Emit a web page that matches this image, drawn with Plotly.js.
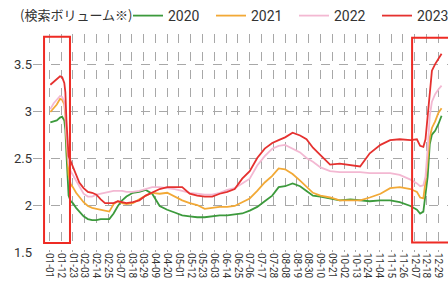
<!DOCTYPE html>
<html><head><meta charset="utf-8">
<script src="https://cdn.plot.ly/plotly-3.0.1.min.js"></script>
<style>html,body{margin:0;padding:0;background:#fff;}#chart{width:448px;height:282px;}</style>
</head><body><div id="chart"></div>
<script>
// Day index in a leap year (0 = 01-01)
const days = [1,4,7,10,12,14,15,16,18,20,22,25,28,32,36,40,44,48,52,56,60,64,68,72,78,84,90,96,103,110,117,124,131,138,145,152,159,166,173,180,187,194,201,208,214,220,227,234,240,246,253,262,271,281,290,299,309,318,327,337,343,346,349,351,353,355,357,360,363,366];

const v2023 = [3.28,3.31,3.33,3.37,3.36,3.30,3.20,2.90,2.52,2.46,2.42,2.33,2.24,2.18,2.14,2.13,2.11,2.06,2.02,2.02,2.02,2.04,2.03,2.02,2.03,2.05,2.10,2.13,2.17,2.19,2.19,2.19,2.12,2.10,2.09,2.09,2.12,2.14,2.17,2.28,2.36,2.50,2.60,2.66,2.69,2.72,2.77,2.74,2.70,2.61,2.53,2.43,2.44,2.42,2.41,2.55,2.64,2.69,2.70,2.69,2.70,2.63,2.62,2.70,2.95,3.25,3.43,3.50,3.56,3.61];
const v2022 = [3.02,3.08,3.12,3.16,3.15,3.10,3.00,2.75,2.45,2.36,2.32,2.26,2.20,2.12,2.09,2.09,2.11,2.12,2.13,2.14,2.15,2.15,2.15,2.14,2.14,2.15,2.17,2.19,2.19,2.18,2.17,2.15,2.13,2.12,2.11,2.11,2.13,2.16,2.18,2.23,2.28,2.42,2.52,2.60,2.63,2.64,2.60,2.56,2.50,2.46,2.40,2.36,2.35,2.35,2.35,2.34,2.34,2.34,2.32,2.27,2.23,2.20,2.21,2.30,2.60,2.95,3.10,3.18,3.23,3.27];
const v2021 = [2.99,3.03,3.07,3.13,3.12,3.07,2.95,2.70,2.32,2.22,2.19,2.13,2.09,2.03,1.99,1.97,1.96,1.95,1.94,1.93,2.01,2.04,2.02,2.01,2.02,2.06,2.10,2.13,2.12,2.13,2.09,2.05,2.02,2.00,1.96,1.97,1.98,1.98,1.99,2.03,2.07,2.15,2.24,2.31,2.39,2.38,2.33,2.26,2.20,2.13,2.10,2.08,2.05,2.05,2.05,2.08,2.12,2.18,2.19,2.17,2.14,2.08,2.07,2.25,2.50,2.72,2.82,2.89,2.98,3.03];
const v2020 = [2.88,2.89,2.90,2.93,2.94,2.90,2.80,2.55,2.10,2.04,2.02,1.97,1.93,1.88,1.85,1.84,1.84,1.85,1.85,1.85,1.91,1.99,2.05,2.09,2.13,2.14,2.16,2.12,1.99,1.95,1.92,1.89,1.88,1.87,1.87,1.88,1.89,1.89,1.90,1.91,1.94,1.98,2.04,2.10,2.19,2.20,2.23,2.20,2.15,2.10,2.09,2.07,2.05,2.06,2.05,2.04,2.05,2.05,2.03,1.99,1.95,1.91,1.93,2.10,2.30,2.65,2.75,2.79,2.86,2.95];

const tickDays = [0,11,22,33,44,55,66,77,88,99,110,121,132,143,154,165,176,187,198,209,220,231,242,253,264,275,286,297,308,319,330,341,352,363];
const tickLabels = ["01-01","01-12","01-23","02-03","02-14","02-25","03-07","03-18","03-29","04-09","04-20","05-01","05-12","05-23","06-03","06-14","06-25","07-06","07-17","07-28","08-08","08-19","08-30","09-10","09-21","10-02","10-13","10-24","11-04","11-15","11-26","12-07","12-18","12-29"];

const seriesNames = ["2020","2021","2022","2023"];
const seriesVals = [v2020, v2021, v2022, v2023];
const colors = ["#3c9a3c","#f2a936","#f3b8d2","#e5312f"];

const traces = seriesNames.map((n,i)=>({
  x: days, y: seriesVals[i], type:'scatter', mode:'lines', name:n,
  line:{color:colors[i], width:1.8, shape:'linear'}
}));

const boxStyle = {type:'rect', xref:'x', yref:'y', line:{color:'#ee2b24', width:2}, fillcolor:'rgba(0,0,0,0)'};
const layout = {
  width:448, height:282,
  margin:{l:33, r:0, t:34, b:30, autoexpand:false},
  paper_bgcolor:'#fff', plot_bgcolor:'#fff',
  font:{family:'Roboto, "Noto Sans CJK JP", sans-serif', color:'#333'},
  title:{text:'(検索ボリューム※)', xref:'container', yref:'container', x:20/448, xanchor:'left',
    y:1-15/282, yanchor:'middle', pad:{t:0,b:0,l:0,r:0},
    font:{size:13, family:'"Noto Sans CJK JP", sans-serif', color:'#333'}},
  showlegend:true,
  legend:{orientation:'h', x:(128-33)/415, xanchor:'left', y:1, yref:'container', yanchor:'top',
    font:{size:14, color:'#333'}, entrywidth:38, entrywidthmode:'pixels', itemwidth:30, bgcolor:'rgba(0,0,0,0)'},
  xaxis:{range:[-15.2,372], tickmode:'array', tickvals:tickDays, ticktext:tickLabels, tickangle:90,
    tickfont:{size:10, color:'#333'}, showgrid:true, gridcolor:'#a8a8a8', griddash:'dash', gridwidth:1,
    zeroline:false, showline:false, ticks:'', ticklen:0},
  yaxis:{range:[1.5,3.82], tickvals:[1.5,2,2.5,3,3.5], ticktext:["1.5","2","2.5","3","3.5"],
    tickfont:{size:13, color:'#333'}, showgrid:true, gridcolor:'#a8a8a8', griddash:'dash', gridwidth:1,
    zeroline:false, showline:false, ticks:'', ticklen:0},
  shapes:[
    Object.assign({x0:-4.9, x1:19.3, y0:1.596, y1:3.79}, boxStyle),
    Object.assign({x0:338.5, x1:380, y0:1.60, y1:3.78}, boxStyle)
  ]
};
Plotly.newPlot('chart', traces, layout, {displayModeBar:false, staticPlot:true});
</script></body></html>
